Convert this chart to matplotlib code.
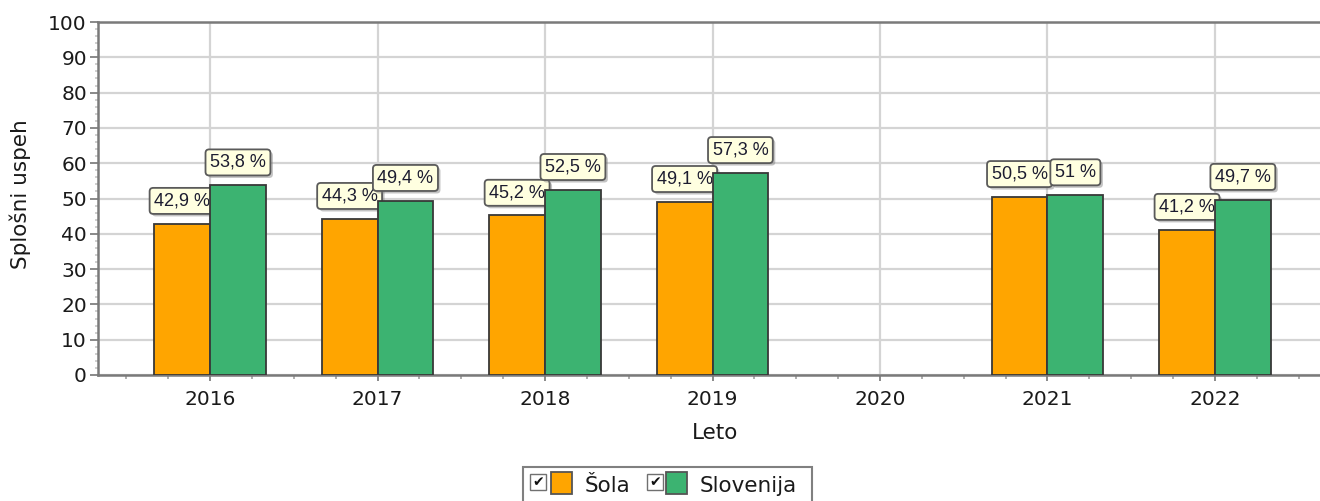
import matplotlib
matplotlib.use("Agg")
import matplotlib.pyplot as plt
import matplotlib.patheffects as pe
from matplotlib.patches import Rectangle, BoxStyle
import numpy as np

years = ["2016", "2017", "2018", "2019", "2020", "2021", "2022"]
sola = [42.9, 44.3, 45.2, 49.1, np.nan, 50.5, 41.2]
slovenija = [53.8, 49.4, 52.5, 57.3, np.nan, 51.0, 49.7]
series_names = ["Šola", "Slovenija"]
colors = ["#FFA500", "#3CB371"]

W, H = 1320, 501
fig = plt.figure(figsize=(W / 100, H / 100), dpi=100)
fig.patch.set_facecolor("white")

# axes geometry in pixels
L, R, T, B = 98, 1327, 22, 375
ax = fig.add_axes([L / W, (H - B) / H, (R - L) / W, (B - T) / H])

x = np.arange(len(years))
bw = 1 / 3
ax.set_xlim(-0.669, len(years) - 1 + 0.669)
ax.set_ylim(0, 100)

ax.bar(x - bw / 2, sola, width=bw, color=colors[0], edgecolor="#383838",
       linewidth=1.3, zorder=3)
ax.bar(x + bw / 2, slovenija, width=bw, color=colors[1], edgecolor="#383838",
       linewidth=1.3, zorder=5)


def fmt(v):
    s = f"{v:g}".replace(".", ",")
    return s + " %"


_round = BoxStyle.Round(pad=0, rounding_size=0.2)


def label_box(x0, y0, width, height, mutation_size):
    px = 0.25 * mutation_size
    py = 0.25 * mutation_size
    return _round(x0 - px, y0 - py, width + 2 * px, height + 2 * py, mutation_size)


def add_labels(xs, vals, z):
    for xi, v in zip(xs, vals):
        if np.isnan(v):
            continue
        t = ax.annotate(fmt(v), xy=(xi, v), xytext=(0, 10.2), textcoords="offset points",
                        ha="center", va="bottom", fontsize=13, family="Liberation Sans",
                        color="#1c1c30", zorder=z,
                        bbox=dict(boxstyle=label_box, fc="#FFFFE0", ec="#5a5a5a", lw=1.3))
        t.get_bbox_patch().set_path_effects(
            [pe.withSimplePatchShadow(offset=(1.8, -1.8), shadow_rgbFace="#7a7a7a", alpha=0.45)])


add_labels(x - bw / 2, sola, 4)
add_labels(x + bw / 2, slovenija, 6)

# grid & ticks
ax.set_axisbelow(True)
ax.set_yticks(np.arange(0, 101, 10))
ax.set_yticks(np.arange(0, 101, 2), minor=True)
ax.set_xticks(x)
ax.set_xticklabels(years)
minor_x = [xi + d for xi in range(-1, len(years) + 1) for d in (0.25, 0.5, 0.75)]
ax.set_xticks([m for m in minor_x if -0.669 <= m <= len(years) - 1 + 0.669], minor=True)
ax.grid(True, which="major", color="#d4d4d4", linewidth=1.6)
ax.tick_params(axis="both", which="major", labelsize=14.5, labelcolor="#1a1a1a", color="#808080",
               width=1.3)
ax.tick_params(axis="y", which="major", length=6, pad=2)
ax.tick_params(axis="x", which="major", length=4, pad=7)
ax.tick_params(axis="y", which="minor", length=2.5, color="#c8c8c8", width=1.2)
ax.tick_params(axis="x", which="minor", length=3, color="#a0a0a0", width=1.2)

for s in ["top", "left", "bottom", "right"]:
    ax.spines[s].set_color("#7a7a7a")
    ax.spines[s].set_linewidth(1.8)

ax.set_xlabel("Leto", fontsize=15.5, color="#1a1a1a")
ax.set_ylabel("Splošni uspeh", fontsize=15.5, color="#1a1a1a")
ax.xaxis.label.set_va("center")
ax.xaxis.set_label_coords((715 - L) / (R - L), (B - 433) / (B - T))
ax.yaxis.label.set_va("center")
ax.yaxis.set_label_coords((20 - L) / (R - L), (B - 194) / (B - T))


# custom legend (pixel coordinates)
def fx(px):
    return px / W


def fy(py):
    return (H - py) / H


tf = fig.transFigure
fig.patches.append(Rectangle((fx(523), fy(512)), fx(812) - fx(523), fy(467) - fy(512),
                             transform=tf, fc="white", ec="#808080", lw=1.5))
entries = [(530, 551, 585), (647, 666, 700)]
for (cbx, sqx, tx), name, col in zip(entries, series_names, colors):
    fig.patches.append(Rectangle((fx(cbx), fy(490)), fx(16), fy(474) - fy(490), transform=tf,
                                 fc="white", ec="#707070", lw=1.0))
    fig.text(fx(cbx + 8), fy(482), "✔", transform=tf, ha="center", va="center",
             fontsize=10, color="#111111", family="DejaVu Sans")
    fig.patches.append(Rectangle((fx(sqx), fy(494)), fx(21), fy(472) - fy(494), transform=tf,
                                 fc=col, ec="#555555", lw=1.3))
    fig.text(fx(tx), fy(486), name, transform=tf, ha="left", va="center", fontsize=15.5,
             color="#1a1a1a")

fig.savefig("out.png", dpi=100)
